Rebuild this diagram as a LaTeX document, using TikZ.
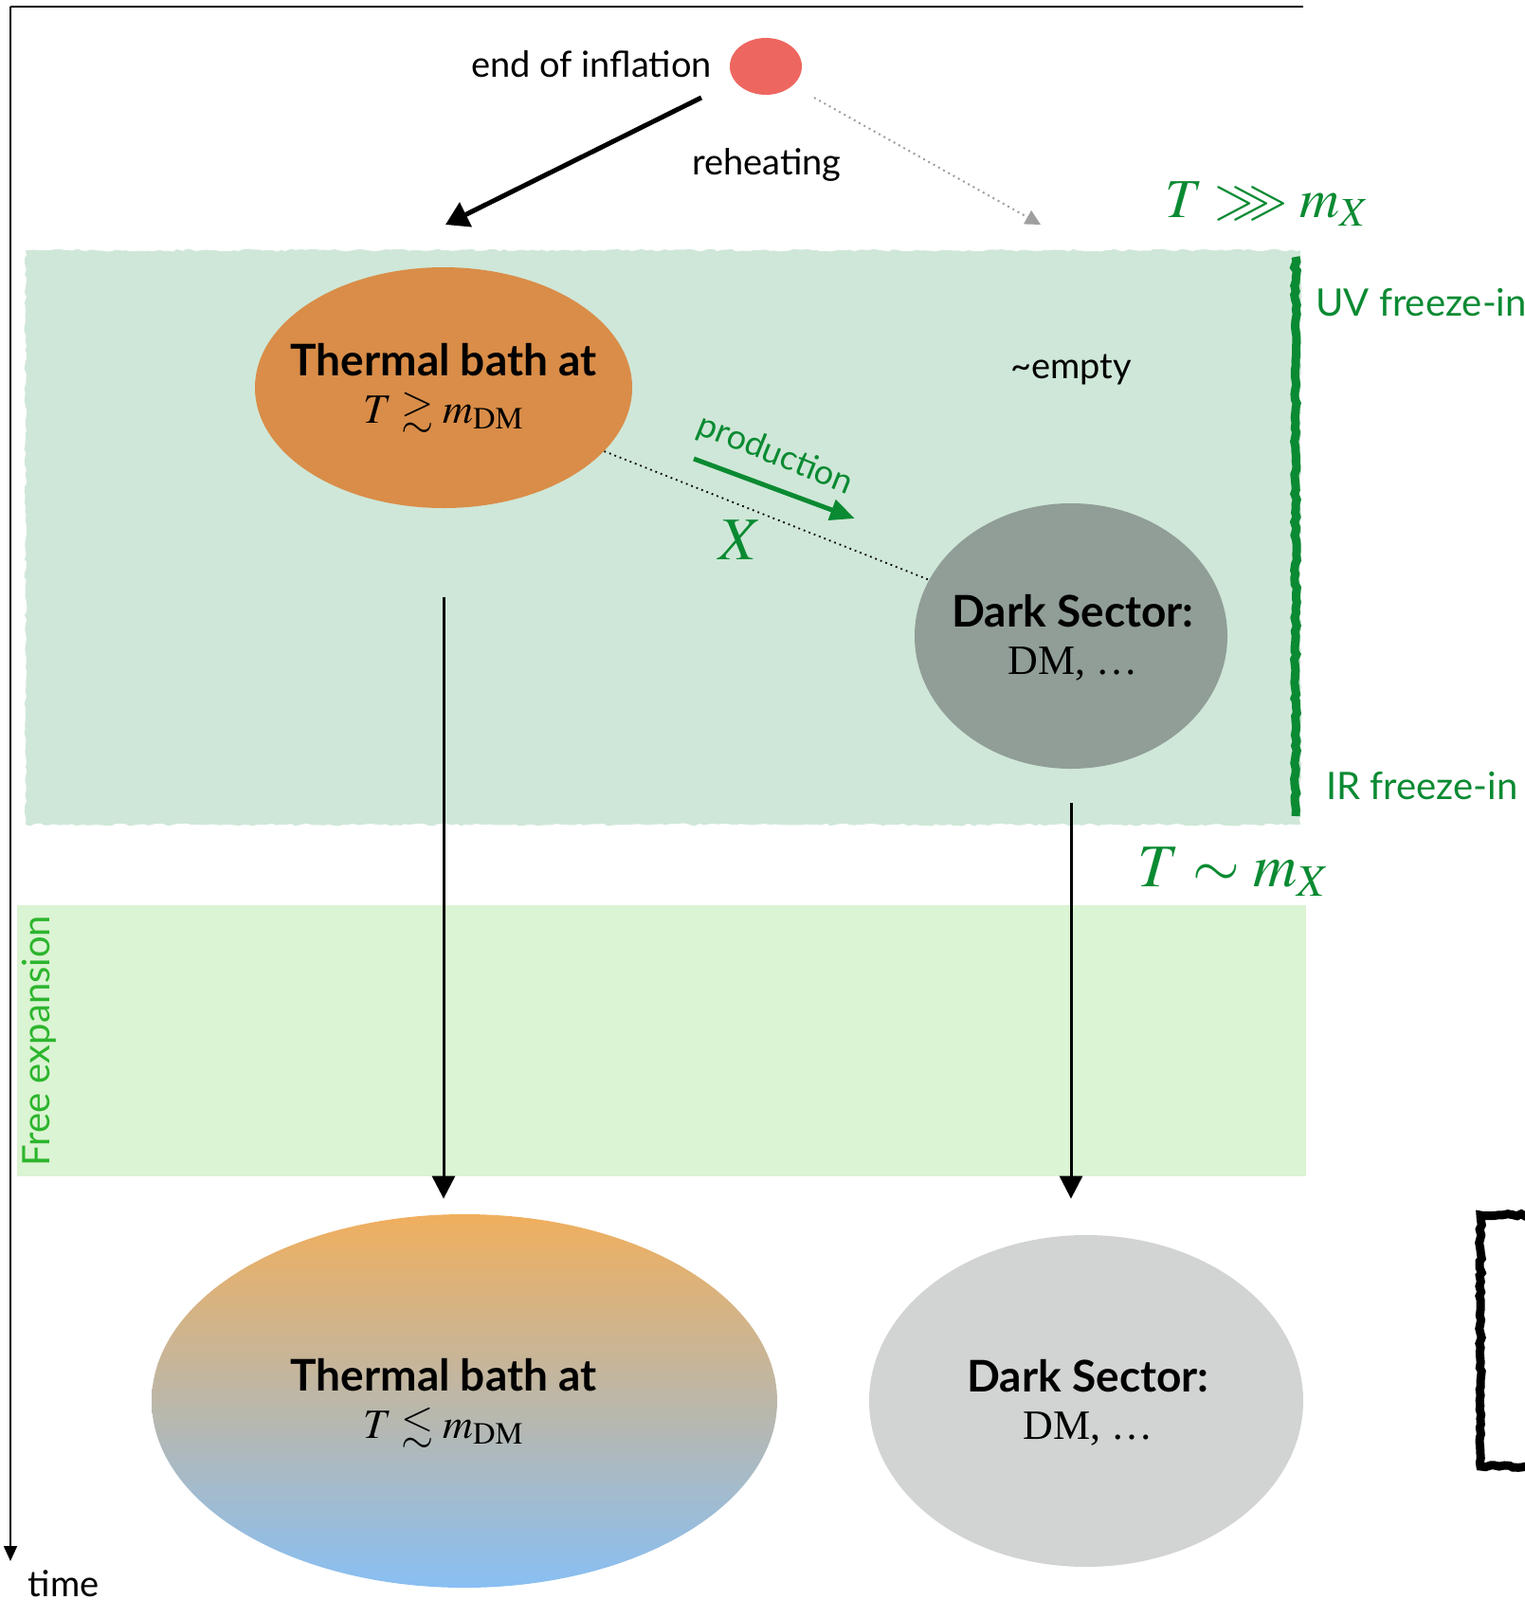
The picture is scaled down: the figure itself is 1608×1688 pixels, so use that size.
\documentclass[tikz,border=0pt]{standalone}
\usepackage{amsmath,amssymb}
\usepackage{mathptmx}
\usepackage[no-math]{fontspec}
\setmainfont{Lato}
\newfontfamily\timesfont{Liberation Serif}
\usepackage{tikz}
\usetikzlibrary{arrows.meta,positioning,shapes.geometric,decorations.pathmorphing}
\definecolor{inflred}{HTML}{EE6660}
\definecolor{uvbg}{HTML}{CFE7D8}
\definecolor{freebg}{HTML}{DBF4D3}
\definecolor{bathor}{HTML}{D98D48}
\definecolor{darkgr}{HTML}{909E97}
\definecolor{darklt}{HTML}{D2D3D3}
\definecolor{fgreen}{HTML}{0A8A32}
\definecolor{lgreen}{HTML}{2DB52D}
\definecolor{hotor}{HTML}{F0AF5E}
\definecolor{coldbl}{HTML}{88BFF3}
\newcommand{\mDM}{m_{\mathrm{DM}}}
\newcommand{\mathline}[1]{{\normalfont\fontsize{22}{26}\selectfont #1}}
\newcommand{\dmline}{{\normalfont\timesfont\fontsize{22}{26}\selectfont DM, \dots}}

\begin{document}
\begin{tikzpicture}[x=0.5pt, y=-0.5pt,
  lbl/.style={font=\fontsize{19}{23}\selectfont, inner sep=0pt},
  blob/.style={ellipse, inner sep=0pt},
  blobtxt/.style={inner sep=0pt, align=center,
                  font=\fontsize{23}{27}\selectfont\bfseries},
  eq/.style={text=fgreen, inner sep=0pt},
  flow/.style={-{Triangle[length=12pt,width=12pt]}, line width=1.5pt},
  rough/.style={decorate, decoration={random steps, segment length=2.5pt, amplitude=0.7pt}}]
  \useasboundingbox (0,0) rectangle (1608,1688);

  % shaded epochs
  \fill[uvbg, rough] (27,264) rectangle (1372,870);
  \fill[freebg] (18,955) rectangle (1378,1241);
  \draw[fgreen, line width=4.5pt, rough] (1367,271) -- (1367,861);

  % time axis
  \coordinate (corner) at (11,7);
  \coordinate (tend) at (11,1647);
  \draw[line width=1.2pt] (1375,7) -- (corner);
  \draw[line width=1pt, -{Triangle[length=8pt,width=7pt]}] (corner) -- (tend);
  \node[lbl] (time) at (67,1671) {time};

  % reheating
  \node[blob, fill=inflred, minimum width=38pt, minimum height=30pt] (infl) at (808,70) {};
  \node[lbl] (endinf) at (624,68) {end of inflation};
  \node[lbl] (reheat) at (809,174) {reheating};
  \coordinate (rh-from) at (740,103);
  \coordinate (rh-to) at (470,237);
  \coordinate (ds-from) at (859,103);
  \coordinate (ds-to) at (1098,237);
  \draw[line width=2.5pt, -{Triangle[length=12pt,width=14pt]}] (rh-from) -- (rh-to);
  \draw[gray!75, line width=1pt, dotted, -{Triangle[length=8pt,width=8pt]}] (ds-from) -- (ds-to);

  \node[eq, font=\fontsize{29}{34}\selectfont] (hot) at (1337,215) {$T \ggg m_X$};
  \node[lbl, text=fgreen, anchor=west, font=\fontsize{20}{24}\selectfont] (uv) at (1388,319) {UV freeze-in};
  \node[lbl, text=fgreen, anchor=west, font=\fontsize{20}{24}\selectfont] (ir) at (1399,829) {IR freeze-in};

  % freeze-in epoch
  \node[blob, fill=bathor, minimum width=199pt, minimum height=127pt] (bath) at (468,409) {};
  \node[blobtxt] (bathtxt) at (bath.center)
    {Thermal bath at\\[-2pt]\mathline{$T \gtrsim \mDM$}};
  \node[lbl] (empty) at (1130,390) {\textasciitilde empty};
  \node[blob, fill=darkgr, minimum width=165pt, minimum height=140pt] (dark) at (1130,671) {};
  \node[blobtxt] (darktxt) at (1132,673) {Dark Sector:\\[-2pt]\dmline};
  \draw[dotted, line width=0.9pt] (bath) -- (dark);
  \coordinate (pr-from) at (732,484);
  \coordinate (pr-to) at (902,547);
  \draw[fgreen, line width=2.5pt, -{Triangle[length=13pt,width=11pt]}] (pr-from) -- (pr-to);
  \node[lbl, text=fgreen, rotate=-22, font=\fontsize{18}{22}\selectfont] (prod) at (818,480) {production};
  \node[eq, font=\fontsize{32}{38}\selectfont] (xmed) at (781,570) {$X$};

  % free expansion
  \node[eq, font=\fontsize{32}{38}\selectfont] (cold) at (1302,920) {$T \sim m_X$};
  \node[lbl, text=lgreen, rotate=90, font=\fontsize{20}{24}\selectfont] (freeexp) at (41,1098) {Free expansion};

  % today
  \node[blob, top color=hotor, bottom color=coldbl, minimum width=330pt, minimum height=197pt] (bath2) at (490,1478) {};
  \node[blobtxt] (bath2txt) at (468,1480) {Thermal bath at\\[-2pt]\mathline{$T \lesssim \mDM$}};
  \node[blob, fill=darklt, minimum width=229pt, minimum height=175pt] (dark2) at (1146,1478) {};
  \node[blobtxt] (dark2txt) at (1148,1480) {Dark Sector:\\[-2pt]\dmline};
  \draw[flow, shorten <=47pt, shorten >=8pt] (bath.south) -- (bath.south |- bath2.north);
  \draw[flow, shorten <=18pt, shorten >=19pt] (dark.south) -- (dark.south |- dark2.north);

  \draw[line width=4.5pt, rough] (1562,1282) rectangle (1640,1547);
\end{tikzpicture}
\end{document}
